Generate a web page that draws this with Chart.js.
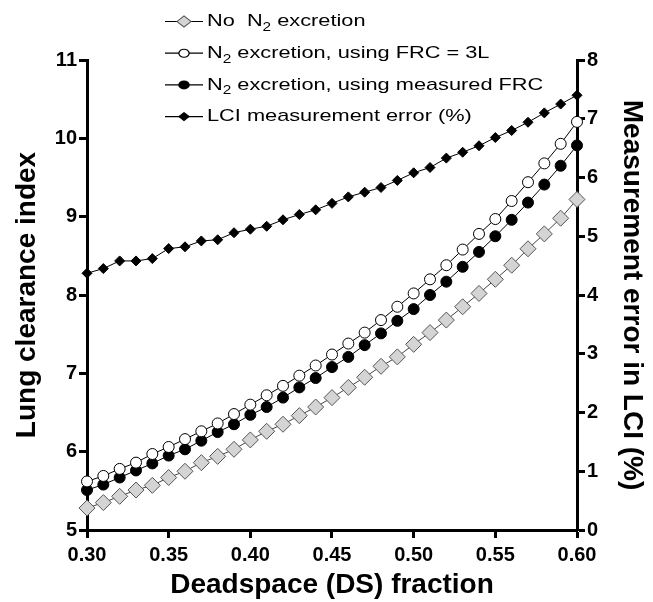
<!DOCTYPE html>
<html>
<head>
<meta charset="utf-8">
<script src="https://cdn.jsdelivr.net/npm/chart.js@4.4.1/dist/chart.umd.min.js"></script>
<style>
  html, body { margin: 0; padding: 0; background: #fff; }
</style>
</head>
<body>
<canvas id="lci" width="653" height="602"></canvas>
<script>
// deadspace fraction on the x axis
const dsFraction = [0.30, 0.31, 0.32, 0.33, 0.34, 0.35, 0.36, 0.37, 0.38, 0.39, 0.40,
  0.41, 0.42, 0.43, 0.44, 0.45, 0.46, 0.47, 0.48, 0.49, 0.50,
  0.51, 0.52, 0.53, 0.54, 0.55, 0.56, 0.57, 0.58, 0.59, 0.60];

// LCI, no N2 excretion (grey diamonds)
const lciNoN2 = [5.28, 5.35, 5.43, 5.51, 5.57, 5.67, 5.75, 5.86, 5.94, 6.03, 6.15,
  6.26, 6.35, 6.46, 6.57, 6.69, 6.82, 6.95, 7.09, 7.21, 7.37,
  7.52, 7.68, 7.85, 8.02, 8.20, 8.38, 8.59, 8.78, 8.98, 9.22];

// LCI, N2 excretion with FRC = 3L (open circles)
const lciFrc3L = [5.62, 5.69, 5.78, 5.86, 5.97, 6.06, 6.16, 6.26, 6.36, 6.48, 6.60,
  6.72, 6.84, 6.97, 7.10, 7.24, 7.38, 7.52, 7.68, 7.85, 8.02,
  8.20, 8.38, 8.58, 8.78, 8.97, 9.20, 9.44, 9.68, 9.93, 10.21];

// LCI, N2 excretion with measured FRC (filled circles)
const lciMeasured = [5.51, 5.58, 5.67, 5.76, 5.85, 5.95, 6.03, 6.14, 6.25, 6.35, 6.47,
  6.57, 6.69, 6.82, 6.94, 7.08, 7.21, 7.36, 7.51, 7.67, 7.82,
  8.00, 8.17, 8.36, 8.55, 8.75, 8.96, 9.18, 9.41, 9.65, 9.91];

// LCI measurement error in % (right axis, black diamonds)
const lciError = [4.37, 4.45, 4.58, 4.58, 4.62, 4.79, 4.82, 4.92, 4.94, 5.06, 5.12,
  5.17, 5.28, 5.37, 5.45, 5.56, 5.67, 5.75, 5.83, 5.95, 6.08,
  6.17, 6.33, 6.43, 6.54, 6.68, 6.80, 6.94, 7.10, 7.25, 7.40];

// legend text, split so the "2" can be set as a subscript
const legendNoN2 = [['No  N', false], ['2', true], [' excretion', false]];
const legendFrc3L = [['N', false], ['2', true], [' excretion, using FRC = 3L', false]];
const legendMeasured = [['N', false], ['2', true], [' excretion, using measured FRC', false]];
const legendError = [['LCI measurement error (%)', false]];

const xTitle = 'Deadspace (DS) fraction';
const yLeftTitle = 'Lung clearance index';
const yRightTitle = 'Measurement error in LCI (%)';

const FONT = "'Liberation Sans', Arial, Helvetica, sans-serif";

function toPoints(ys) {
  return ys.map(function(v, i) { return {x: dsFraction[i], y: v}; });
}

// legend drawn as a column at the top, the figure's lettering is wide so stretch it a bit
const columnLegend = {
  id: 'columnLegend',
  afterDraw(chart) {
    const ctx = chart.ctx;
    const rows = [legendNoN2, legendFrc3L, legendMeasured, legendError];
    const sx = 1.28;
    ctx.save();
    ctx.translate(165, 0);
    ctx.scale(sx, 1);
    rows.forEach(function(row, i) {
      const ds = chart.data.datasets[i];
      const y = 21.5 + i * 31.7;
      ctx.strokeStyle = '#000';
      ctx.lineWidth = 1.2;
      ctx.beginPath();
      ctx.moveTo(0, y);
      ctx.lineTo(38 / sx, y);
      ctx.stroke();
      ctx.fillStyle = ds.pointBackgroundColor;
      ctx.strokeStyle = ds.pointBorderColor;
      ctx.lineWidth = ds.pointBorderWidth;
      Chart.helpers.drawPoint(ctx, {
        pointStyle: ds.pointStyle,
        radius: ds.legendRadius,
        borderWidth: ds.pointBorderWidth,
        rotation: 0
      }, 19 / sx, y);
      let x = 42 / sx;
      ctx.fillStyle = '#000';
      ctx.textBaseline = 'middle';
      row.forEach(function(seg) {
        ctx.font = (seg[1] ? '12px ' : '17px ') + FONT;
        ctx.fillText(seg[0], x, seg[1] ? y + 6 : y);
        x += ctx.measureText(seg[0]).width;
      });
    });
    ctx.restore();
  }
};

const axisLine = {display: true, width: 3, color: '#000'};
const tickGrid = {drawOnChartArea: false, drawTicks: true, tickLength: 8, tickWidth: 3, tickColor: '#000'};
const tickFont = {family: FONT, size: 20, weight: 'bold'};
const titleFont = {family: FONT, size: 28, weight: 'bold'};

new Chart(document.getElementById('lci'), {
  type: 'line',
  data: {
    datasets: [
      {
        label: 'No N2 excretion',
        data: toPoints(lciNoN2),
        yAxisID: 'y',
        borderColor: '#444',
        borderWidth: 1,
        pointStyle: 'rectRot',
        pointRadius: 8,
        legendRadius: 5.5,
        pointBackgroundColor: '#d4d4d4',
        pointBorderColor: '#555',
        pointBorderWidth: 1
      },
      {
        label: 'N2 excretion, using FRC = 3L',
        data: toPoints(lciFrc3L),
        yAxisID: 'y',
        borderColor: '#000',
        borderWidth: 1,
        pointStyle: 'circle',
        pointRadius: 5.5,
        legendRadius: 4,
        pointBackgroundColor: '#fff',
        pointBorderColor: '#000',
        pointBorderWidth: 1
      },
      {
        label: 'N2 excretion, using measured FRC',
        data: toPoints(lciMeasured),
        yAxisID: 'y',
        borderColor: '#000',
        borderWidth: 1,
        pointStyle: 'circle',
        pointRadius: 5.5,
        legendRadius: 4,
        pointBackgroundColor: '#000',
        pointBorderColor: '#000',
        pointBorderWidth: 1
      },
      {
        label: 'LCI measurement error (%)',
        data: toPoints(lciError),
        yAxisID: 'y2',
        borderColor: '#000',
        borderWidth: 1,
        pointStyle: 'rectRot',
        pointRadius: 5,
        legendRadius: 4,
        pointBackgroundColor: '#000',
        pointBorderColor: '#000',
        pointBorderWidth: 1
      }
    ]
  },
  options: {
    responsive: false,
    animation: false,
    devicePixelRatio: 1,
    clip: false,
    layout: {padding: {top: 60, left: 0, right: 0, bottom: 0}},
    plugins: {legend: {display: false}, tooltip: {enabled: false}},
    elements: {line: {tension: 0}},
    scales: {
      x: {
        type: 'linear',
        min: 0.30,
        max: 0.60,
        border: axisLine,
        grid: tickGrid,
        ticks: {
          stepSize: 0.05,
          color: '#000',
          font: tickFont,
          padding: 5,
          maxRotation: 0,
          callback: function(v) { return v.toFixed(2); }
        },
        title: {display: true, text: xTitle, color: '#000', font: titleFont, padding: {top: 0, bottom: 0}},
        afterFit: function(s) { s.height = 72; }
      },
      y: {
        position: 'left',
        min: 5,
        max: 11,
        border: axisLine,
        grid: tickGrid,
        ticks: {stepSize: 1, color: '#000', font: tickFont, padding: 2},
        title: {display: true, text: yLeftTitle, color: '#000', font: titleFont, padding: {top: 10, bottom: 0}},
        afterFit: function(s) { s.width = 87; }
      },
      y2: {
        position: 'right',
        min: 0,
        max: 8,
        border: axisLine,
        grid: tickGrid,
        ticks: {stepSize: 1, color: '#000', font: tickFont, padding: 2},
        title: {display: true, text: yRightTitle, color: '#000', font: titleFont, padding: {top: 4, bottom: 0}},
        afterFit: function(s) { s.width = 76; }
      }
    }
  },
  plugins: [columnLegend]
});
</script>
</body>
</html>
